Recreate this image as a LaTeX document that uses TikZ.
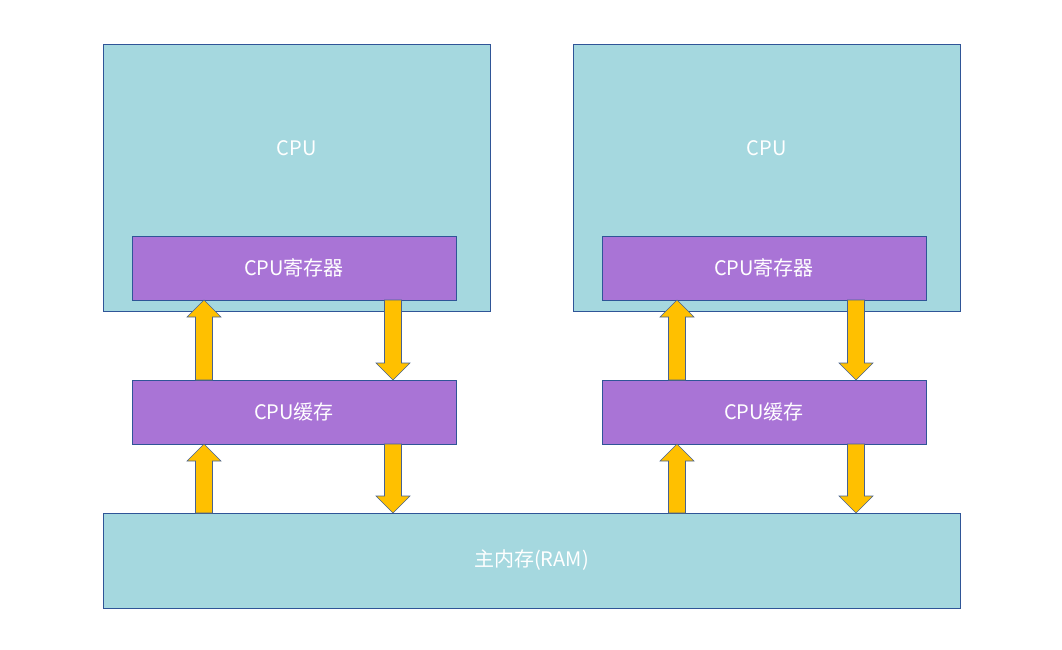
\documentclass[tikz,border=0pt]{standalone}
\usepackage{fontspec}
\setmainfont{Noto Sans CJK SC}
\usetikzlibrary{positioning}
\definecolor{boxteal}{HTML}{A5D8DF}
\definecolor{boxpurple}{HTML}{A974D6}
\definecolor{boxline}{HTML}{2F5597}
\definecolor{arrowfill}{HTML}{FFC000}
\begin{document}
\begin{tikzpicture}[x=1pt,y=-1pt,
  unit/.style={draw=boxline, fill=boxteal, text=white, font=\fontsize{20}{24}\selectfont},
  part/.style={draw=boxline, fill=boxpurple, text=white, font=\fontsize{20}{24}\selectfont},
  flow/.style={draw=boxline!70!gray, fill=arrowfill, line width=0.6pt}]
  \useasboundingbox (0,0) rectangle (1062,649);
  % cpu boxes
  \foreach \n/\x in {L/103,R/573}
  {
  \draw[unit] (\x,44) rectangle (\x+387,311);
  \node[text=white, font=\fontsize{20}{24}\selectfont] (cpu\n) at (\x+193.5,148) {CPU};
  \node[part, minimum width=324pt, minimum height=64pt] (reg\n) at (\x+191,268) {CPU寄存器};
  \node[part, minimum width=324pt, minimum height=64pt] (cache\n) at (\x+191,412) {CPU缓存};
  }
  \node[unit, minimum width=857pt, minimum height=95pt] (ram) at (531.5,560.5) {主内存(RAM)};
  % arrows
  \foreach \a/\b in {204/0,393/0,677/473,856/473}
  {
  }
  \foreach \x in {204,677}
  {
  \foreach \top/\bot in {300/380,444/513}
  \draw[flow] (\x-8.5,\bot) -- (\x-8.5,\top+17) -- (\x-17,\top+17) -- (\x,\top) -- (\x+17,\top+17) -- (\x+8.5,\top+17) -- (\x+8.5,\bot) -- cycle;
  }
  \foreach \x in {393,856}
  {
  \foreach \top/\bot in {300/380,444/513}
  \draw[flow] (\x-8.5,\top) -- (\x-8.5,\bot-17) -- (\x-17,\bot-17) -- (\x,\bot) -- (\x+17,\bot-17) -- (\x+8.5,\bot-17) -- (\x+8.5,\top) -- cycle;
  }
\end{tikzpicture}
\end{document}
